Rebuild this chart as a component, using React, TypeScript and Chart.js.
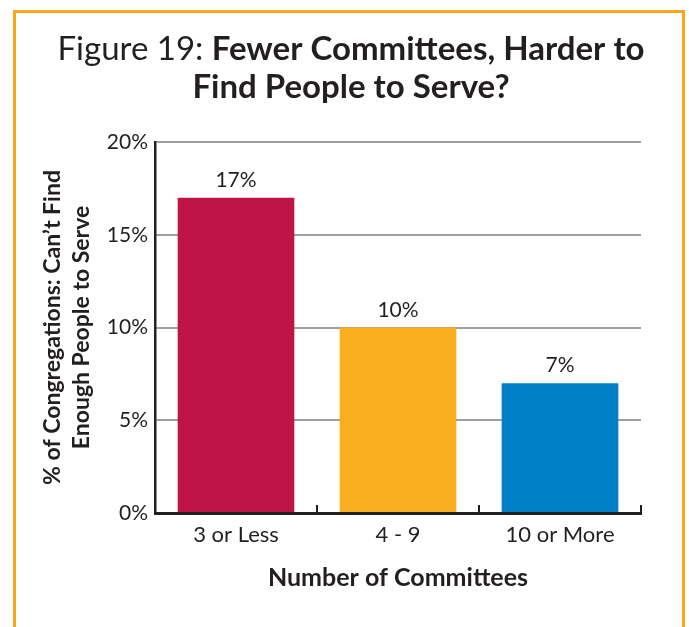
import React, { useEffect, useRef } from "react";
import { Chart, registerables } from "chart.js";

Chart.register(...registerables);

const categories = ["3 or Less", "4 - 9", "10 or More"];
const values = [17, 10, 7];
const barColors = ["#BE1546", "#F9AE1F", "#0080C6"];
const yTicks = [0, 5, 10, 15, 20];
const titleRegular = "Figure 19: ";
const titleBold1 = "Fewer Committees, Harder to";
const titleBold2 = "Find People to Serve?";
const yTitle = ["% of Congregations: Can\u2019t Find", "Enough People to Serve"];
const xTitle = "Number of Committees";

const FONT = "Lato, 'Open Sans', sans-serif";
const INK = "#231F20";

const titlePlugin = {
  id: "mixedTitle",
  afterDraw(chart: any) {
    const ctx = chart.ctx;
    ctx.save();
    ctx.fillStyle = INK;
    ctx.textBaseline = "alphabetic";
    const cx = 351;
    ctx.font = `400 33px ${FONT}`;
    const w1 = ctx.measureText(titleRegular).width;
    ctx.font = `700 33px ${FONT}`;
    const w2 = ctx.measureText(titleBold1).width;
    const start = cx - (w1 + w2) / 2;
    ctx.textAlign = "left";
    ctx.font = `400 33px ${FONT}`;
    ctx.fillText(titleRegular, start, 60);
    ctx.font = `700 33px ${FONT}`;
    ctx.fillText(titleBold1, start + w1, 60);
    ctx.textAlign = "center";
    ctx.fillText(titleBold2, cx, 98);
    ctx.restore();
  },
};

const labelPlugin = {
  id: "barLabels",
  afterDatasetsDraw(chart: any) {
    const ctx = chart.ctx;
    const meta = chart.getDatasetMeta(0);
    ctx.save();
    ctx.fillStyle = INK;
    ctx.font = `400 21px ${FONT}`;
    ctx.textAlign = "center";
    ctx.textBaseline = "alphabetic";
    meta.data.forEach((bar: any, i: number) => {
      ctx.fillText(values[i] + "%", bar.x, bar.y - 11);
    });
    ctx.restore();
  },
};

export default function App() {
  const ref = useRef<HTMLCanvasElement>(null);
  useEffect(() => {
    document.body.style.margin = "0";
    const chart = new Chart(ref.current!, {
      type: "bar",
      data: {
        labels: categories,
        datasets: [
          {
            data: values,
            backgroundColor: barColors,
            borderWidth: 0,
            barPercentage: 0.72,
            categoryPercentage: 1,
          },
        ],
      },
      options: {
        animation: false,
        responsive: false,
        layout: { padding: { top: 142, left: 38, right: 48, bottom: 34 } },
        plugins: {
          legend: { display: false },
          title: { display: false },
          tooltip: { enabled: false },
        },
        scales: {
          y: {
            min: 0,
            max: 20,
            afterBuildTicks: (scale: any) => {
              scale.ticks = yTicks.map((v) => ({ value: v }));
            },
            afterFit: (scale: any) => {
              scale.width = 117;
            },
            ticks: {
              callback: (v: any) => v + "%",
              color: INK,
              font: { family: FONT, size: 21, weight: "400" },
              padding: 7,
            },
            grid: {
              color: "#9D9FA2",
              lineWidth: 2,
              drawTicks: false,
            },
            border: { color: INK, width: 2.5 },
            title: {
              display: true,
              text: yTitle,
              color: INK,
              font: { family: FONT, size: 23, weight: "700", lineHeight: 1.25 },
              padding: { top: 0, bottom: 0 },
            },
          },
          x: {
            afterFit: (scale: any) => {
              scale.height = 80;
            },
            ticks: {
              color: INK,
              font: { family: FONT, size: 22, weight: "400" },
              padding: 17,
            },
            grid: {
              drawOnChartArea: false,
              drawTicks: true,
              tickLength: -8,
              color: INK,
              lineWidth: 2,
            },
            border: { color: INK, width: 3 },
            title: {
              display: true,
              text: xTitle,
              color: INK,
              font: { family: FONT, size: 25, weight: "700" },
              padding: { top: 0, bottom: 0 },
            },
          },
        },
      },
      plugins: [titlePlugin, labelPlugin],
    } as any);
    return () => chart.destroy();
  }, []);

  return (
    <div
      style={{
        position: "fixed",
        left: 0,
        top: 0,
        width: 689,
        height: 627,
        overflow: "hidden",
        background: "#fff",
      }}
    >
      <div
        style={{
          position: "absolute",
          left: 13,
          top: 10,
          width: 672,
          height: 700,
          border: "3px solid #F9A61A",
          boxSizing: "border-box",
        }}
      />
      <canvas
        ref={ref}
        width={689}
        height={627}
        style={{ position: "absolute", left: 0, top: 0, width: 689, height: 627 }}
      />
    </div>
  );
}
